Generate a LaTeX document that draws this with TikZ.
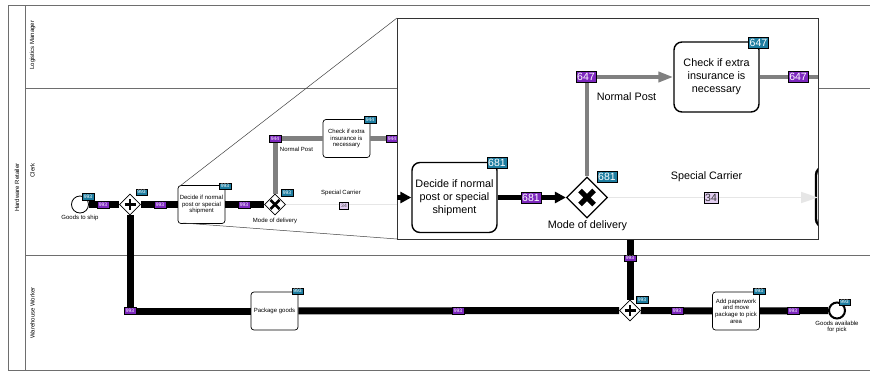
\documentclass[tikz,border=0pt]{standalone}
\usepackage{fontspec}
\setmainfont{Liberation Sans}
\usetikzlibrary{shapes.geometric,arrows.meta}
\definecolor{bpblue}{RGB}{30,125,160}
\definecolor{bppurple}{RGB}{125,40,190}
\definecolor{bplilac}{RGB}{225,205,240}
\definecolor{lanegray}{RGB}{110,110,110}
\definecolor{npgray}{RGB}{128,128,128}
\definecolor{scgray}{RGB}{230,230,230}
\tikzset{
  task/.style={draw, fill=white, rounded corners=3pt, line width=0.7pt, align=center, inner sep=0.5pt,
    font=\fontsize{6}{6.6}\selectfont, minimum width=47pt, minimum height=38pt},
  itask/.style={draw, fill=white, rounded corners=8pt, line width=1.4pt, align=center, inner sep=1pt,
    font=\fontsize{10.8}{13}\selectfont, minimum width=85pt, minimum height=70pt},
  gw/.style={diamond, aspect=1, draw, fill=white, line width=0.6pt, inner sep=0pt, minimum width=21pt, minimum height=21pt},
  igw/.style={diamond, aspect=1, draw, fill=white, line width=1.2pt, inner sep=0pt, minimum width=41pt, minimum height=41pt},
  flow/.style={line width=7pt, draw=black},
  gflow/.style={line width=5pt, draw=npgray},
  scflow/.style={line width=0.8pt, draw=scgray},
  iflow/.style={line width=4.5pt, draw=black, -{Triangle[length=11pt,width=11pt]}},
  igflow/.style={line width=4pt, draw=npgray, -{Triangle[length=15pt,width=10pt]}},
  iscflow/.style={line width=1.5pt, draw=scgray, -{Triangle[length=17pt,width=11pt]}},
  bb/.style={draw=black, fill=bpblue, text=white, line width=0.3pt, inner xsep=1.6pt, inner ysep=0.4pt,
    minimum height=6.5pt, font=\fontsize{5}{5}\selectfont},
  pb/.style={bb, fill=bppurple},
  lb/.style={bb, fill=bplilac, text=black!70},
  ibb/.style={draw=black, fill=bpblue, text=white, line width=0.5pt, inner xsep=1.3pt, inner ysep=0.5pt,
    minimum height=11pt, font=\fontsize{10.5}{10.5}\selectfont},
  ipb/.style={ibb, fill=bppurple},
  ilb/.style={ibb, fill=bplilac, text=black!80},
  lbl/.style={font=\fontsize{6}{6.6}\selectfont, align=center, inner sep=0pt},
  ilbl/.style={font=\fontsize{10.8}{13}\selectfont, align=center, inner sep=0pt},
  lanelbl/.style={rotate=90, font=\fontsize{6}{6}\selectfont, inner sep=0pt},
  frame/.style={draw=lanegray, line width=0.8pt}
}
\begin{document}
\begin{tikzpicture}[x=1pt,y=-1pt]
\useasboundingbox (0,0) rectangle (870,372);
% pool and lanes
\draw[frame] (870,5) -- (8,5) -- (8,370.5) -- (870,370.5);
\draw[frame] (25,5) -- (25,370.5);
\draw[frame] (25,88) -- (870,88);
\draw[frame] (25,255) -- (870,255);
\node[lanelbl] (pool) at (17,187.5) {Hardware Retailer};
\node[lanelbl] (lane1) at (32.5,45) {Logistics Manager};
\node[lanelbl] (lane2) at (32.5,170.5) {Clerk};
\node[lanelbl] (lane3) at (32.5,313) {Warehouse Worker};

% main nodes
\node[circle, draw, fill=white, line width=0.8pt, minimum size=17pt, inner sep=0pt] (start) at (80,204.5) {};
\node[gw] (g1) at (130,204.5) {};
\node[task] (dec) at (201.5,204.5) {Decide if normal\\post or special\\shipment};
\node[gw] (g2) at (275,204.5) {};
\node[task] (chk) at (346.5,138.5) {Check if extra\\insurance is\\necessary};
\node[task] (pkg) at (274.5,311) {Package goods};
\node[gw] (g3) at (630,310.5) {};
\node[task] (add) at (736,311) {Add paperwork\\and move\\package to pick\\area};
\node[circle, draw, fill=white, line width=2pt, minimum size=16pt, inner sep=0pt] (end) at (837,310.5) {};

\coordinate (chkout) at (398,138.5);
\coordinate (scout) at (398,204.5);
\coordinate (vtop) at (630,232);

% main flows
\draw[flow] (start) -- (g1);
\draw[flow] (g1) -- (dec);
\draw[flow] (dec) -- (g2);
\draw[gflow] (g2) |- (chk);
\draw[gflow] (chk) -- (chkout);
\draw[scflow] (g2) -- (scout);
\draw[flow] (g1) |- (pkg);
\draw[flow] (pkg) -- (g3);
\draw[flow] (vtop) -- (g3);
\draw[flow] (g3) -- (add);
\draw[flow] (add) -- (end);

% gateway markers
\draw[line width=2.6pt] ([xshift=-5.5pt]g1.center) -- ([xshift=5.5pt]g1.center)
  ([yshift=-5.5pt]g1.center) -- ([yshift=5.5pt]g1.center);
\draw[line width=2.6pt] ([xshift=-5.5pt]g3.center) -- ([xshift=5.5pt]g3.center)
  ([yshift=-5.5pt]g3.center) -- ([yshift=5.5pt]g3.center);
\draw[line width=2.8pt] ([shift={(-4.5pt,-4.5pt)}]g2.center) -- ([shift={(4.5pt,4.5pt)}]g2.center)
  ([shift={(-4.5pt,4.5pt)}]g2.center) -- ([shift={(4.5pt,-4.5pt)}]g2.center);

% main labels
\node[lbl] (tstart) at (80,217.5) {Goods to ship};
\node[lbl] (tg2) at (275,220.5) {Mode of delivery};
\node[lbl] (tnp) at (296.5,149) {Normal Post};
\node[lbl] (tsc) at (341,193) {Special Carrier};
\node[lbl] (tend) at (837,327) {Goods available\\for pick};

% main badges
\node[bb] (bstart) at (88,196.5) {993};
\node[pb] (f1) at (103,204.5) {993};
\node[bb] (bg1) at (141.5,192) {993};
\node[pb] (f2) at (160,204.5) {993};
\node[bb] (bdec) at (225,186) {993};
\node[pb] (f3) at (244,204.5) {993};
\node[bb] (bg2) at (287,192.5) {993};
\node[pb] (f4) at (275,138.5) {944};
\node[bb] (bchk) at (370,119.5) {944};
\node[pb] (f5) at (392,138.5) {944};
\node[lb] (f6) at (344,205.5) {34};
\node[pb] (f7) at (130,310.5) {993};
\node[bb] (bpkg) at (297.5,291) {993};
\node[pb] (f8) at (458,310.5) {993};
\node[pb] (f9) at (630,258) {993};
\node[bb] (bg3) at (642,299.5) {993};
\node[pb] (f10) at (677,310.5) {993};
\node[bb] (badd) at (759,291) {993};
\node[pb] (f11) at (793,310.5) {993};
\node[bb] (bend) at (844.5,302) {993};

% zoom lines
\coordinate (zs1) at (180,186);
\coordinate (zs2) at (183,223);
\coordinate (zt1) at (397,18);
\coordinate (zt2) at (397,239);
\draw[line width=0.5pt, draw=black!75] (zs1) -- (zt1);
\draw[line width=0.5pt, draw=black!75] (zs2) -- (zt2);

% inset
\node[draw=black!80, fill=white, line width=0.9pt, minimum width=421pt, minimum height=221pt, inner sep=0pt,
  anchor=north west] (inset) at (397,18) {};
\begin{scope}
\clip (397,18) rectangle (818,239);
\node[itask, minimum width=90pt, minimum height=60pt, line width=2.4pt] (hid) at (861,197) {};
\end{scope}
\node[itask] (idec) at (454.5,197.5) {Decide if normal\\post or special\\shipment};
\node[igw] (ig2) at (587,197.5) {};
\node[itask] (ichk) at (716.5,77) {Check if extra\\insurance is\\necessary};
\coordinate (iin) at (397,197.5);
\coordinate (iout1) at (818,77);
\coordinate (iout2) at (818,197.5);

\draw[iflow] (iin) -- (idec);
\draw[iflow] (idec) -- (ig2);
\draw[igflow] (ig2) |- (ichk);
\draw[line width=4pt, draw=npgray] (ichk) -- (iout1);
\draw[iscflow] (ig2) -- (iout2);
\draw[line width=5pt] ([shift={(-7pt,-7pt)}]ig2.center) -- ([shift={(7pt,7pt)}]ig2.center)
  ([shift={(-7pt,7pt)}]ig2.center) -- ([shift={(7pt,-7pt)}]ig2.center);

\node[ilbl] (itg2) at (587.5,226) {Mode of delivery};
\node[ilbl] (itnp) at (626.5,97) {Normal Post};
\node[ilbl] (itsc) at (706.5,177) {Special Carrier};

\node[ibb] (bidec) at (497,162.5) {681};
\node[ipb] (if1) at (531,197.5) {681};
\node[ibb] (big2) at (607,176.5) {681};
\node[ipb] (if2) at (586,77) {647};
\node[ibb] (bichk) at (758.5,43) {647};
\node[ipb] (if3) at (798,77) {647};
\node[ilb] (if4) at (711,197.5) {34};
\end{tikzpicture}
\end{document}
